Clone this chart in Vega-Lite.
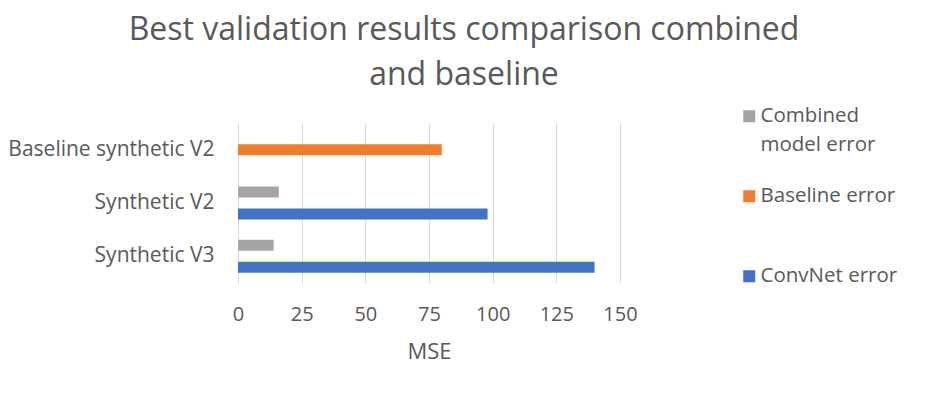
{
  "$schema": "https://vega.github.io/schema/vega-lite/v6.json",
  "autosize": "none",
  "width": 382,
  "height": 160,
  "padding": {"left": 238, "top": 123, "right": 308, "bottom": 117},
  "background": "white",
  "config": {
    "font": "Open Sans",
    "view": {"stroke": null},
    "style": {"guide-label": {"lineHeight": 29}}
  },
  "title": {
    "text": ["Best validation results comparison combined", "and baseline"],
    "fontSize": 32,
    "fontWeight": "normal",
    "color": "#595959",
    "font": "Open Sans",
    "anchor": "middle",
    "dx": 35,
    "offset": -18,
    "lineHeight": 45,
    "baseline": "bottom"
  },
  "data": {
    "values": [
      {"category": "Baseline synthetic V2", "series": "Baseline error", "value": 80},
      {"category": "Synthetic V2", "series": "Combined model error", "value": 16},
      {"category": "Synthetic V2", "series": "ConvNet error", "value": 98},
      {"category": "Synthetic V3", "series": "Combined model error", "value": 14},
      {"category": "Synthetic V3", "series": "ConvNet error", "value": 140}
    ]
  },
  "mark": {"type": "bar"},
  "encoding": {
    "y": {
      "field": "category",
      "type": "nominal",
      "sort": ["Baseline synthetic V2", "Synthetic V2", "Synthetic V3"],
      "scale": {"paddingInner": 0, "paddingOuter": 0},
      "axis": {
        "title": null,
        "domain": false,
        "ticks": false,
        "labelFontSize": 21,
        "labelColor": "#595959",
        "labelPadding": 24,
        "labelLimit": 300
      }
    },
    "yOffset": {
      "field": "series",
      "type": "nominal",
      "sort": ["Combined model error", "Baseline error", "ConvNet error"],
      "scale": {"paddingInner": 0, "paddingOuter": 0.92}
    },
    "x": {
      "field": "value",
      "type": "quantitative",
      "scale": {"domain": [0, 150], "nice": false},
      "axis": {
        "title": "MSE",
        "values": [0, 25, 50, 75, 100, 125, 150],
        "domain": false,
        "ticks": false,
        "grid": true,
        "gridColor": "#d9d9d9",
        "gridWidth": 1,
        "labelFlush": false,
        "labelFontSize": 20,
        "labelColor": "#595959",
        "labelPadding": 21,
        "titleFontSize": 22,
        "titleFontWeight": "normal",
        "titleColor": "#595959",
        "titlePadding": 17
      }
    },
    "color": {
      "field": "series",
      "type": "nominal",
      "sort": ["Combined model error", "Baseline error", "ConvNet error"],
      "scale": {
        "domain": ["Combined model error", "Baseline error", "ConvNet error"],
        "range": ["#A5A5A5", "#ED7D31", "#4472C4"]
      },
      "legend": {
        "title": null,
        "orient": "none",
        "legendX": 501,
        "legendY": -17,
        "symbolType": "square",
        "symbolSize": 144,
        "symbolStrokeWidth": 0,
        "labelFontSize": 20.5,
        "labelColor": "#595959",
        "labelOffset": 1,
        "labelLimit": 300,
        "rowPadding": 30,
        "labelExpr": "datum.label == 'Combined model error' ? ['Combined', 'model error'] : datum.label == 'Baseline error' ? ['Baseline error', ' '] : datum.label"
      }
    }
  }
}
